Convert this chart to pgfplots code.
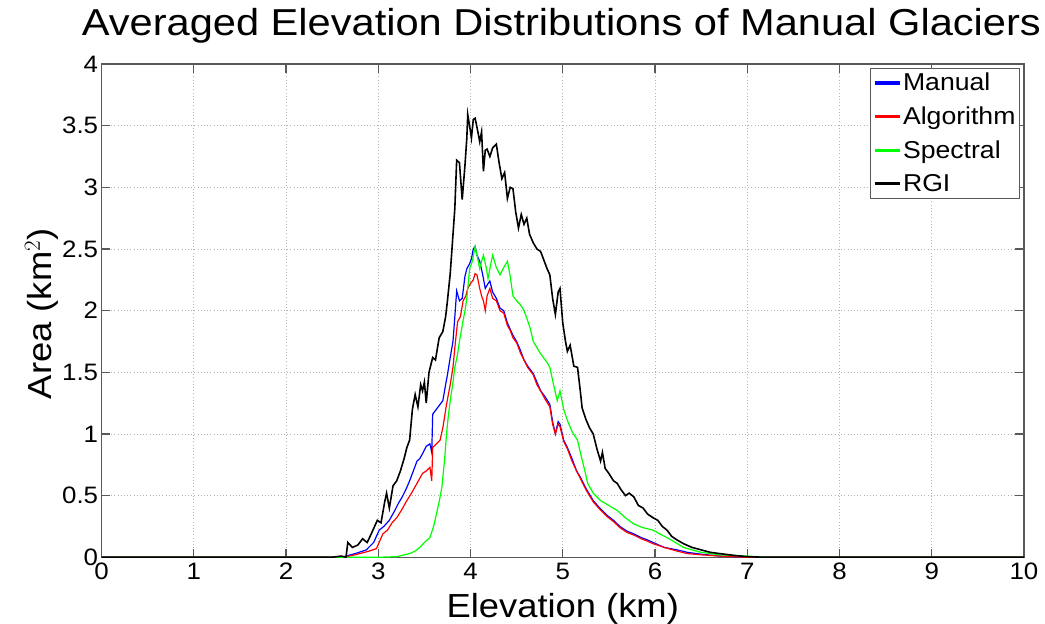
\documentclass[border=0pt]{standalone}
\usepackage{fontspec}
\setmainfont{Liberation Sans}[FakeStretch=1.09]
\newfontfamily\titlefont{Liberation Sans}[FakeStretch=1.11]
\usepackage{pgfplots}
\pgfplotsset{compat=1.18}
\usetikzlibrary{calc}

\definecolor{axgray}{gray}{0.35}
\definecolor{mblue}{rgb}{0,0,1}
\definecolor{mred}{rgb}{1,0,0}
\definecolor{mgreen}{rgb}{0,1,0}

\begin{document}
\begin{tikzpicture}
\begin{axis}[
    scale only axis,
    width=691.5pt, height=369.75pt,
    xmin=0, xmax=10, ymin=0, ymax=4,
    xtick={0,1,...,10},
    ytick={0,0.5,...,4},
    yticklabels={0,0.5,1,1.5,2,2.5,3,3.5,4},
    /pgf/number format/assume math mode=true,
    tick label style={font=\fontsize{17.8}{19}\selectfont},
    xticklabel style={yshift=-1pt},
    yticklabel style={xshift=1pt},
    tick align=inside,
    major tick length=6.5pt,
    axis line style={axgray, line width=0.8pt},
    every tick/.style={axgray, line width=0.8pt},
    grid=major,
    major grid style={gray!60, dotted, line width=0.6pt},
    title={Averaged Elevation Distributions of Manual Glaciers},
    title style={font=\titlefont\fontsize{28.1}{30}\selectfont,
        at={(axis description cs:0.4985,1.0412)}, anchor=base, inner sep=0pt},
    xlabel={Elevation (km)},
    ylabel={Area (km$^2$)},
    label style={font=\fontsize{25}{27}\selectfont, inner sep=0pt},
    xlabel style={at={(axis description cs:0.5,-0.1216)}, anchor=base},
    ylabel style={at={(axis description cs:-0.0537,0.494)}, anchor=base, rotate=0},
    legend style={at={(1,1)}, anchor=north east, xshift=-3pt, yshift=-3pt,
        draw=axgray, line width=0.8pt, font=\fontsize{18.3}{20}\selectfont,
        inner xsep=2pt, inner ysep=1.5pt, row sep=6.5pt,
        nodes={inner xsep=1pt}},
    legend cell align=left,
    legend image code/.code={\draw[#1, line width=2.4pt] (0cm,0cm) -- (0.66cm,0cm);},
]
\coordinate (sw) at (rel axis cs:0,0);
\coordinate (ne) at (rel axis cs:1,1);

% Manual
\addplot[mblue, line width=0.9pt] coordinates {
(0,0) (2.6,0) (2.65,0.01) (2.75,0.03) (2.87,0.06) (2.95,0.12) (3.01,0.22) (3.06,0.25)
(3.12,0.30) (3.18,0.38) (3.22,0.44) (3.26,0.49) (3.30,0.55) (3.34,0.62) (3.37,0.68)
(3.42,0.78) (3.45,0.80) (3.48,0.84) (3.52,0.90) (3.56,0.92) (3.58,0.85) (3.59,1.16)
(3.63,1.20) (3.67,1.24) (3.70,1.27) (3.73,1.40) (3.75,1.48) (3.78,1.62) (3.81,1.75)
(3.83,1.95) (3.85,2.16) (3.88,2.08) (3.91,2.10) (3.94,2.28) (3.96,2.34) (3.99,2.38)
(4.01,2.42) (4.03,2.50) (4.05,2.52) (4.07,2.45) (4.10,2.40) (4.13,2.30) (4.16,2.18)
(4.19,2.22) (4.21,2.24) (4.24,2.15) (4.28,2.10) (4.32,2.02) (4.36,2.00) (4.40,1.90)
(4.43,1.85) (4.46,1.80) (4.50,1.75) (4.54,1.68) (4.58,1.60) (4.62,1.55) (4.68,1.49)
(4.72,1.42) (4.76,1.35) (4.81,1.30) (4.86,1.24) (4.89,1.10) (4.92,1.00) (4.95,1.10)
(4.97,1.08) (5.01,0.95) (5.05,0.89) (5.10,0.80) (5.15,0.70) (5.19,0.65) (5.25,0.56)
(5.33,0.46) (5.40,0.40) (5.48,0.34) (5.55,0.30) (5.62,0.25) (5.70,0.21) (5.77,0.19)
(5.85,0.16) (5.92,0.14) (5.98,0.12) (6.10,0.08) (6.24,0.06) (6.35,0.04) (6.50,0.025)
(6.70,0.01) (7.0,0) (10,0)
};
\addlegendentry{Manual}

% Algorithm
\addplot[mred, line width=0.9pt] coordinates {
(0,0) (2.65,0) (2.69,0.01) (2.80,0.03) (2.90,0.05) (2.98,0.07) (3.05,0.19) (3.10,0.22)
(3.15,0.28) (3.20,0.32) (3.25,0.38) (3.31,0.46) (3.36,0.52) (3.42,0.60) (3.48,0.68)
(3.52,0.70) (3.56,0.73) (3.58,0.62) (3.59,0.89) (3.63,0.92) (3.67,0.95) (3.70,1.05)
(3.74,1.24) (3.78,1.40) (3.81,1.54) (3.83,1.70) (3.86,1.91) (3.89,1.95) (3.92,2.08)
(3.95,2.12) (3.97,2.18) (4.00,2.22) (4.03,2.25) (4.05,2.30) (4.07,2.29) (4.10,2.18)
(4.12,2.12) (4.14,2.08) (4.16,2.00) (4.18,2.12) (4.21,2.18) (4.24,2.10) (4.28,2.08)
(4.32,2.00) (4.36,1.98) (4.40,1.88) (4.43,1.84) (4.46,1.78) (4.50,1.74) (4.54,1.66)
(4.58,1.60) (4.62,1.54) (4.68,1.48) (4.72,1.40) (4.76,1.35) (4.81,1.28) (4.86,1.22)
(4.89,1.08) (4.92,1.00) (4.95,1.08) (4.97,1.06) (5.01,0.94) (5.05,0.88) (5.10,0.78)
(5.15,0.70) (5.19,0.64) (5.25,0.55) (5.33,0.45) (5.40,0.39) (5.48,0.33) (5.55,0.29)
(5.62,0.24) (5.70,0.20) (5.77,0.18) (5.85,0.15) (5.92,0.13) (5.98,0.11) (6.10,0.08)
(6.24,0.05) (6.35,0.03) (6.50,0.02) (6.70,0.01) (7.0,0) (10,0)
};
\addlegendentry{Algorithm}

% Spectral
\addplot[mgreen, line width=0.9pt] coordinates {
(0,0) (3.0,0) (3.2,0.005) (3.34,0.03) (3.40,0.05) (3.45,0.08) (3.50,0.12) (3.56,0.16)
(3.60,0.25) (3.63,0.35) (3.66,0.45) (3.69,0.57) (3.72,0.80) (3.74,1.00) (3.76,1.15)
(3.78,1.27) (3.81,1.42) (3.83,1.54) (3.86,1.65) (3.88,1.75) (3.91,1.88) (3.94,2.00)
(3.96,2.10) (3.99,2.34) (4.02,2.40) (4.05,2.52) (4.07,2.45) (4.10,2.34) (4.12,2.40)
(4.14,2.45) (4.17,2.35) (4.19,2.26) (4.22,2.38) (4.24,2.45) (4.28,2.35) (4.32,2.29)
(4.36,2.35) (4.40,2.40) (4.43,2.28) (4.46,2.12) (4.50,2.08) (4.54,2.05) (4.58,2.00)
(4.61,1.94) (4.65,1.85) (4.68,1.75) (4.72,1.70) (4.76,1.65) (4.79,1.62) (4.83,1.58)
(4.86,1.54) (4.90,1.40) (4.94,1.27) (4.97,1.35) (5.01,1.20) (5.05,1.11) (5.10,1.02)
(5.16,0.95) (5.20,0.82) (5.24,0.70) (5.27,0.60) (5.33,0.52) (5.41,0.46) (5.50,0.42)
(5.59,0.38) (5.68,0.32) (5.77,0.27) (5.87,0.24) (5.98,0.22) (6.05,0.19) (6.13,0.16)
(6.22,0.12) (6.31,0.08) (6.40,0.06) (6.50,0.04) (6.70,0.02) (7.0,0.01) (7.2,0) (10,0)
};
\addlegendentry{Spectral}

% RGI
\addplot[black, line width=1.2pt] coordinates {
(0,0) (2.5,0) (2.6,0.01) (2.65,0.0) (2.67,0.12) (2.72,0.08) (2.78,0.10) (2.83,0.15)
(2.88,0.12) (2.93,0.20) (2.99,0.30) (3.03,0.28) (3.07,0.45) (3.09,0.52) (3.12,0.40)
(3.16,0.58) (3.20,0.62) (3.24,0.70) (3.28,0.80) (3.31,0.89) (3.34,0.95) (3.37,1.20)
(3.40,1.32) (3.43,1.22) (3.46,1.40) (3.48,1.35) (3.50,1.42) (3.52,1.25) (3.55,1.50)
(3.59,1.62) (3.62,1.60) (3.66,1.78) (3.70,1.83) (3.73,1.95) (3.75,2.08) (3.78,2.30)
(3.80,2.51) (3.83,2.83) (3.85,3.22) (3.88,3.20) (3.91,2.90) (3.94,3.18) (3.96,3.40)
(3.97,3.59) (3.99,3.50) (4.01,3.40) (4.03,3.55) (4.05,3.56) (4.08,3.45) (4.10,3.37)
(4.12,3.45) (4.14,3.13) (4.16,3.30) (4.18,3.31) (4.21,3.25) (4.24,3.32) (4.28,3.35)
(4.31,3.20) (4.34,3.07) (4.37,3.12) (4.40,2.91) (4.43,3.00) (4.46,2.99) (4.49,2.80)
(4.52,2.67) (4.55,2.78) (4.58,2.70) (4.61,2.75) (4.64,2.62) (4.68,2.55) (4.72,2.50)
(4.76,2.48) (4.80,2.40) (4.83,2.34) (4.86,2.29) (4.89,2.10) (4.92,1.97) (4.95,2.15)
(4.97,2.18) (5.00,1.90) (5.03,1.75) (5.05,1.67) (5.08,1.72) (5.12,1.55) (5.16,1.54)
(5.19,1.35) (5.21,1.21) (5.25,1.12) (5.29,1.05) (5.33,1.00) (5.37,0.88) (5.41,0.78)
(5.43,0.85) (5.46,0.72) (5.50,0.68) (5.55,0.62) (5.59,0.60) (5.63,0.55) (5.68,0.50)
(5.72,0.52) (5.77,0.49) (5.82,0.42) (5.87,0.40) (5.92,0.35) (5.98,0.32) (6.03,0.30)
(6.08,0.25) (6.13,0.22) (6.18,0.17) (6.24,0.14) (6.31,0.11) (6.40,0.08) (6.50,0.06)
(6.60,0.04) (6.70,0.03) (6.86,0.015) (7.0,0.005) (7.2,0) (10,0)
};
\addlegendentry{RGI}
\end{axis}
\pgfresetboundingbox
\useasboundingbox ($(sw)+(-76.1pt,-49.5pt)$) rectangle ($(ne)+(15.75pt,48pt)$);
\end{tikzpicture}
\end{document}
